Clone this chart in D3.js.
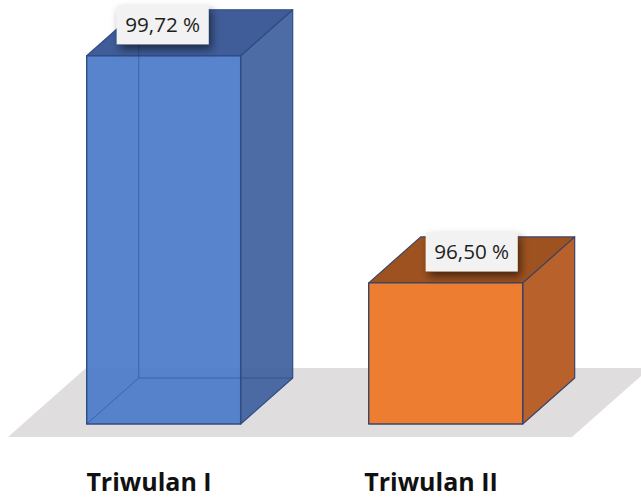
<!DOCTYPE html>
<html lang="id">
<head>
<meta charset="UTF-8">
<title>Triwulan</title>
<style>
  body { margin: 0; background: #fff; }
  svg { display: block; }
  .cat { font-family: "Open Sans", sans-serif; font-weight: 700; font-size: 25px; fill: #111; }
  .val { font-family: "Open Sans", sans-serif; font-size: 20px; fill: #1e1e1e; }
</style>
</head>
<body>
<svg id="chart" width="641" height="498"></svg>
<script src="https://cdn.jsdelivr.net/npm/d3@7/dist/d3.min.js"></script>
<script>
// data
const categories = ["Triwulan I", "Triwulan II"];
const values = [99.72, 96.50];
const yDomain = [94.5, 100];

// per-bar look
const faceColors = [
  { front: "#4b7ac9", side: "#40619f", top: "#315191", edge: "#2f4c84", opacity: 0.93 },
  { front: "#ed7d31", side: "#b9612a", top: "#9e5220", edge: "#3b4466", opacity: 1 }
];
const labelShift = [-27, 0];

const svg = d3.select("#chart");

// floor geometry (front edge) and depth
const floorFront = 437, floorDepth = 69;
const slope = 52 / 46;              // x offset per px of depth
const barInset = 13, barDepth = 46; // bar sits 13px behind floor front

const x = d3.scaleBand().domain(categories).range([8, 572])
  .paddingInner(0.454).paddingOuter(0.227);
const y = d3.scaleLinear().domain(yDomain).range([floorFront - barInset, 36]);

const defs = svg.append("defs");
const f = defs.append("filter").attr("id", "shadow")
  .attr("x", "-30%").attr("y", "-30%").attr("width", "170%").attr("height", "190%");
f.append("feDropShadow").attr("dx", 3).attr("dy", 5).attr("stdDeviation", 4)
  .attr("flood-color", "#000").attr("flood-opacity", 0.55);

// floor
const fx0 = 8, fx1 = 572;
const fdx = floorDepth * slope;
svg.append("path")
  .attr("d", `M${fx0},${floorFront} L${fx1},${floorFront} L${fx1 + fdx},${floorFront - floorDepth} L${fx0 + fdx},${floorFront - floorDepth} Z`)
  .attr("fill", "#dfdddd");

const pts = a => "M" + a.map(p => p.join(",")).join(" L") + " Z";
const ddx = barDepth * slope, ddy = -barDepth;
const shiftX = barInset * slope;

const bars = svg.selectAll(".bar").data(values).enter().append("g").attr("class", "bar");

bars.each(function (v, i) {
  const g = d3.select(this);
  const c = faceColors[i];
  const x0 = x(categories[i]) + shiftX, x1 = x0 + x.bandwidth();
  const yb = y(yDomain[0]), yt = y(v);
  const back = `M${x0},${yb} L${x0 + ddx},${yb + ddy} L${x1 + ddx},${yb + ddy} M${x0 + ddx},${yb + ddy} L${x0 + ddx},${yt + ddy}`;

  // hidden back edges (seen through transparent bar)
  if (c.opacity < 1) {
    g.append("path").attr("d", back)
      .attr("fill", "none").attr("stroke", c.edge).attr("stroke-width", 1);
  }
  g.append("path")
    .attr("d", pts([[x1, yb], [x1 + ddx, yb + ddy], [x1 + ddx, yt + ddy], [x1, yt]]))
    .attr("fill", c.side).attr("fill-opacity", c.opacity)
    .attr("stroke", c.edge).attr("stroke-width", 1.2).attr("stroke-linejoin", "round");
  g.append("path")
    .attr("d", pts([[x0, yt], [x1, yt], [x1 + ddx, yt + ddy], [x0 + ddx, yt + ddy]]))
    .attr("fill", c.top).attr("fill-opacity", c.opacity)
    .attr("stroke", c.edge).attr("stroke-width", 1.2).attr("stroke-linejoin", "round");
  g.append("path")
    .attr("d", pts([[x0, yb], [x1, yb], [x1, yt], [x0, yt]]))
    .attr("fill", c.front).attr("fill-opacity", c.opacity)
    .attr("stroke", c.edge).attr("stroke-width", 1.4).attr("stroke-linejoin", "round");
  if (c.opacity < 1) {
    g.append("path").attr("d", back)
      .attr("fill", "none").attr("stroke", c.edge).attr("stroke-width", 1).attr("stroke-opacity", 0.4);
  }

  // value label on top face
  const cx = (x0 + x1) / 2 + ddx / 2 + labelShift[i];
  const cy = yt + ddy / 2 - 8;
  const w = 92, h = 39;
  g.append("rect").attr("x", cx - w / 2).attr("y", cy - h / 2).attr("width", w).attr("height", h)
    .attr("fill", "#f2f2f2").attr("filter", "url(#shadow)");
  g.append("text").attr("class", "val")
    .attr("x", cx).attr("y", cy + 7).attr("text-anchor", "middle")
    .attr("textLength", 75).attr("lengthAdjust", "spacingAndGlyphs")
    .text(d3.format(".2f")(v).replace(".", ",") + " %");
});

// category labels centred on floor front halves
const xl = d3.scaleBand().domain(categories).range([fx0, fx1]);
svg.selectAll(".cat").data(categories).enter().append("text")
  .attr("class", "cat")
  .attr("x", d => xl(d) + xl.bandwidth() / 2)
  .attr("y", 491)
  .attr("text-anchor", "middle")
  .text(d => d);
</script>
</body>
</html>
